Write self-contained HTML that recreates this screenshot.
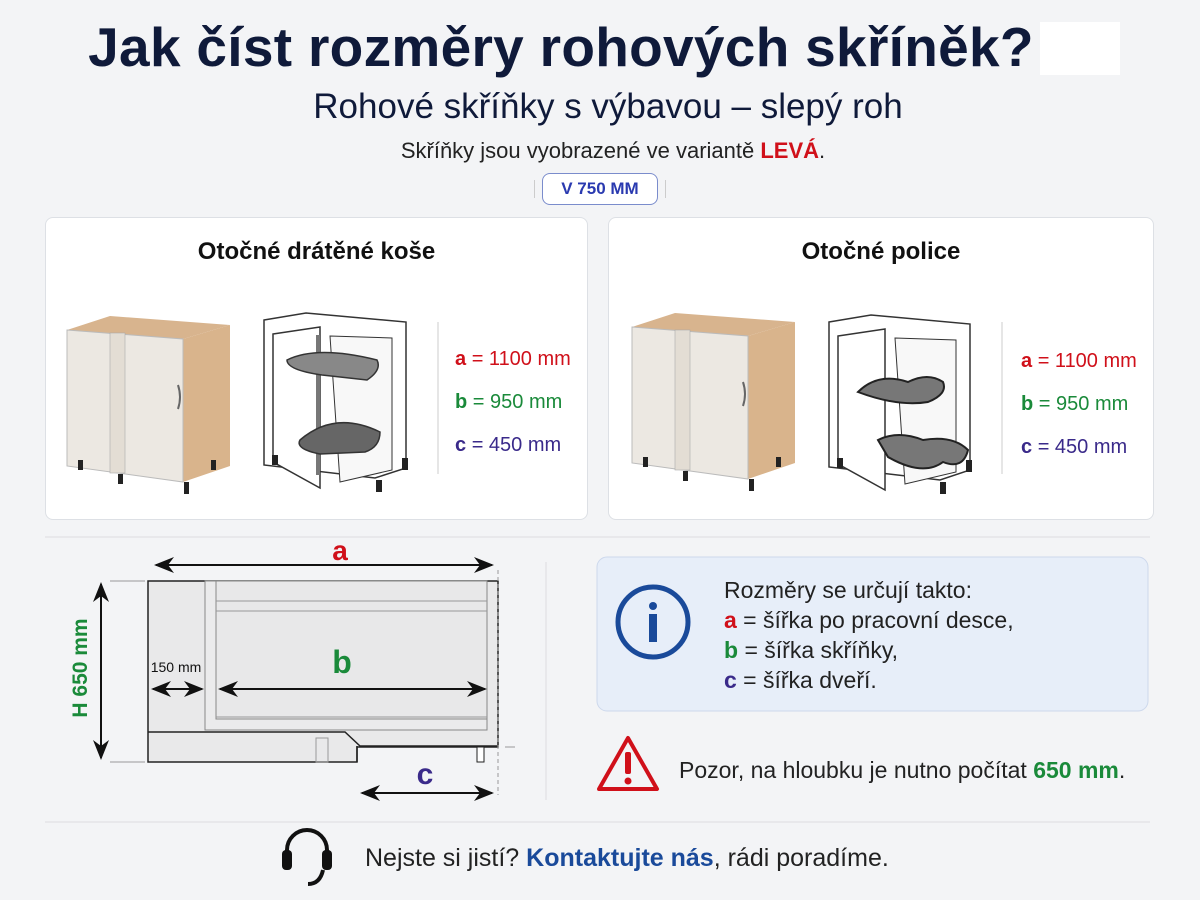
<!DOCTYPE html>
<html><head><meta charset="utf-8"><style>
body{margin:0;width:1200px;height:900px;background:#f3f4f6;font-family:"Liberation Sans",sans-serif;position:relative;overflow:hidden}
.a{position:absolute}
.card{position:absolute;background:#fff;border:1px solid #dde0e5;border-radius:8px}
.ct{position:absolute;width:100%;text-align:center;top:20px;font-weight:bold;font-size:24px;color:#111}
</style></head><body>
<div class="a" style="left:1040px;top:22px;width:80px;height:53px;background:#fff"></div>
<div class="a" style="left:0;width:1122px;top:15px;text-align:center;font-weight:bold;font-size:55px;color:#0f1a3a;letter-spacing:0.3px">Jak číst rozměry rohových skříněk?</div>
<div class="a" style="left:0;width:1216px;top:87px;text-align:center;font-size:35px;color:#0f1a3a">Rohové skříňky s výbavou – slepý roh</div>
<div class="a" style="left:0;width:1226px;top:138px;text-align:center;font-size:22px;color:#222">Skříňky jsou vyobrazené ve variantě <b style="color:#d0101a">LEVÁ</b>.</div>
<div class="a" style="left:542px;top:173px;width:114px;height:30px;border:1.5px solid #7a8ccc;border-radius:8px;background:#fff;text-align:center;line-height:30px;font-weight:bold;font-size:17px;color:#2a3ab0">V 750 MM</div>
<div class="a" style="left:534px;top:180px;width:1px;height:18px;background:#ccc"></div>
<div class="a" style="left:665px;top:180px;width:1px;height:18px;background:#ccc"></div>

<div class="card" style="left:45px;top:217px;width:541px;height:301px"><div class="ct">Otočné drátěné koše</div></div>
<div class="card" style="left:608px;top:217px;width:544px;height:301px"><div class="ct">Otočné police</div></div>

<svg class="a" style="left:0;top:0" width="1200" height="900">
<g id="cab">
<polygon points="67,330 110,316 230,325 183,339" fill="#d8b48e"/>
<polygon points="183,339 230,325 230,466 183,482" fill="#d9b48c"/>
<polygon points="67,330 183,339 183,482 67,466" fill="#ece8e2" stroke="#bbb" stroke-width="1"/>
<rect x="110" y="333" width="15" height="140" fill="#e3ddd4" stroke="#aaa" stroke-width="0.6"/>
<path d="M178 385 q4 12 0 24" stroke="#666" stroke-width="2" fill="none"/>
<rect x="78" y="460" width="5" height="10" fill="#222"/><rect x="184" y="482" width="5" height="12" fill="#222"/><rect x="211" y="460" width="5" height="10" fill="#222"/><rect x="118" y="474" width="5" height="10" fill="#222"/>
</g>
<use href="#cab" x="565" y="-3"/>
<g stroke="#333" stroke-width="1.5" fill="#fff">
<polygon points="264,320 306,313 406,322 406,468 375,478 264,465"/>
<polygon points="273,334 320,327 320,488 273,462" fill="#fff"/>
<polygon points="330,336 392,338 392,470 340,482" fill="#f8f8f8" stroke-width="1"/>
<line x1="318" y1="335" x2="318" y2="475" stroke="#777" stroke-width="4"/>
</g>
<g stroke="#333" fill="none" stroke-width="1.5">
<path d="M287 360 q30 -15 90 0 q5 10 -10 20 l-45 -5 q-35 -5 -35 -15z" fill="#888"/>
<path d="M300 440 q35 -30 80 -8 q0 15 -15 20 l-45 2 q-25 -5 -20 -14z" fill="#666"/>
</g>
<g fill="#222"><rect x="272" y="455" width="6" height="10"/><rect x="376" y="480" width="6" height="12"/><rect x="402" y="458" width="6" height="12"/></g>
<g stroke="#333" stroke-width="1.5" fill="#fff">
<polygon points="829,322 871,315 970,324 970,470 940,480 829,467"/>
<polygon points="838,336 885,329 885,490 838,464"/>
<polygon points="895,338 956,340 956,472 905,484" fill="#f8f8f8" stroke-width="1"/>
</g>
<g stroke="#222" fill="#777" stroke-width="2">
<path d="M858 392 q20 -20 50 -10 q20 -10 35 0 q5 12 -15 20 q-30 5 -70 -10z"/>
<path d="M878 440 q20 -10 45 0 q30 -5 45 10 q-5 20 -25 12 q-20 15 -55 -5z"/>
</g>
<g fill="#222"><rect x="837" y="458" width="6" height="10"/><rect x="940" y="482" width="6" height="12"/><rect x="966" y="460" width="6" height="12"/></g>
<line x1="438" y1="322" x2="438" y2="474" stroke="#ccc"/>
<line x1="1002" y1="322" x2="1002" y2="474" stroke="#ccc"/>

<line x1="45" y1="537" x2="1150" y2="537" stroke="#dcdde0"/>
<line x1="546" y1="562" x2="546" y2="800" stroke="#dcdde0"/>
<line x1="45" y1="822" x2="1150" y2="822" stroke="#dcdde0"/>

<defs><marker id="ar" markerWidth="10" markerHeight="10" refX="9" refY="5" orient="auto-start-reverse"><path d="M0 1 L10 5 L0 9 L3 5z" fill="#111"/></marker></defs>
<g stroke="#222" stroke-width="1.5">
<polygon points="148,581 498,581 498,747 357,747 357,762 148,762" fill="#e9e9ea"/>
<rect x="205" y="581" width="282" height="149" fill="#ebebec" stroke="#888" stroke-width="1"/>
<rect x="216" y="581" width="271" height="138" fill="#e8e8e9" stroke="#888" stroke-width="1"/>
<line x1="216" y1="601" x2="487" y2="601" stroke="#999" stroke-width="1"/>
<line x1="216" y1="611" x2="487" y2="611" stroke="#999" stroke-width="1"/>
<line x1="216" y1="717" x2="487" y2="717" stroke="#999" stroke-width="1"/>
<polyline points="148,732 345,732 360,746 498,746" fill="none"/>
<line x1="357" y1="746" x2="357" y2="762"/>
<rect x="477" y="747" width="7" height="15" fill="#fff" stroke-width="1"/>
<rect x="316" y="738" width="12" height="24" fill="none" stroke="#999" stroke-width="1"/>
</g>
<g stroke="#111" stroke-width="2" fill="none">
<line x1="156" y1="565" x2="492" y2="565" marker-start="url(#ar)" marker-end="url(#ar)"/>
<line x1="101" y1="584" x2="101" y2="758" marker-start="url(#ar)" marker-end="url(#ar)"/>
<line x1="153" y1="689" x2="202" y2="689" marker-start="url(#ar)" marker-end="url(#ar)"/>
<line x1="220" y1="689" x2="485" y2="689" marker-start="url(#ar)" marker-end="url(#ar)"/>
<line x1="362" y1="793" x2="492" y2="793" marker-start="url(#ar)" marker-end="url(#ar)"/>
</g>
<g stroke="#999" stroke-width="1"><line x1="110" y1="581" x2="145" y2="581"/><line x1="110" y1="762" x2="145" y2="762"/><line x1="498" y1="570" x2="498" y2="795" stroke-dasharray="4 3"/><line x1="505" y1="747" x2="515" y2="747"/></g>
<text x="340" y="560" font-size="28" font-weight="bold" fill="#d0101a" text-anchor="middle" font-family="Liberation Sans">a</text>
<text x="342" y="673" font-size="32" font-weight="bold" fill="#1a8a3a" text-anchor="middle" font-family="Liberation Sans">b</text>
<text x="425" y="784" font-size="30" font-weight="bold" fill="#3a2a8a" text-anchor="middle" font-family="Liberation Sans">c</text>
<text x="176" y="672" font-size="14" fill="#111" text-anchor="middle" font-family="Liberation Sans">150 mm</text>
<text transform="translate(87,668) rotate(-90)" font-size="21" font-weight="bold" fill="#1a8a3a" text-anchor="middle" font-family="Liberation Sans">H 650 mm</text>
<rect x="597" y="557" width="551" height="154" rx="10" fill="#e7eef9" stroke="#cdd8ec"/>
<circle cx="653" cy="622" r="35" fill="none" stroke="#1a4a9a" stroke-width="5"/>
<circle cx="653" cy="606" r="4" fill="#1a4a9a"/><rect x="649" y="614" width="8" height="28" fill="#1a4a9a"/>
<path d="M628 738 L657 789 L599 789 Z" fill="none" stroke="#d0101a" stroke-width="4" stroke-linejoin="round"/>
<rect x="625" y="752" width="6" height="22" rx="2" fill="#d0101a"/><circle cx="628" cy="781" r="3.5" fill="#d0101a"/>
<g fill="none" stroke="#111" stroke-width="4"><path d="M287 858 v-8 a20 20 0 0 1 40 0 v8"/><path d="M323 870 q-3 14 -15 14"/></g>
<rect x="282" y="850" width="10" height="20" rx="4" fill="#111"/><rect x="322" y="850" width="10" height="20" rx="4" fill="#111"/>
</svg>

<div class="a" style="left:455px;top:338px;font-size:20px;line-height:43px;color:#222">
<div><b style="color:#d0101a">a</b> <span style="color:#d0101a">= 1100 mm</span></div>
<div><b style="color:#1a8a3a">b</b> <span style="color:#1a8a3a">= 950 mm</span></div>
<div><b style="color:#3a2a8a">c</b> <span style="color:#3a2a8a">= 450 mm</span></div></div>
<div class="a" style="left:1021px;top:340px;font-size:20px;line-height:43px;color:#222">
<div><b style="color:#d0101a">a</b> <span style="color:#d0101a">= 1100 mm</span></div>
<div><b style="color:#1a8a3a">b</b> <span style="color:#1a8a3a">= 950 mm</span></div>
<div><b style="color:#3a2a8a">c</b> <span style="color:#3a2a8a">= 450 mm</span></div></div>

<div class="a" style="left:724px;top:575px;font-size:23px;line-height:30px;color:#222">
<div>Rozměry se určují takto:</div>
<div><b style="color:#d0101a">a</b> = šířka po pracovní desce,</div>
<div><b style="color:#1a8a3a">b</b> = šířka skříňky,</div>
<div><b style="color:#3a2a8a">c</b> = šířka dveří.</div></div>
<div class="a" style="left:679px;top:757px;font-size:23px;color:#222">Pozor, na hloubku je nutno počítat <b style="color:#1a8a3a">650 mm</b>.</div>
<div class="a" style="left:365px;top:844px;font-size:25px;color:#222">Nejste si jistí? <b style="color:#1a4a9a">Kontaktujte nás</b>, rádi poradíme.</div>
</body></html>
